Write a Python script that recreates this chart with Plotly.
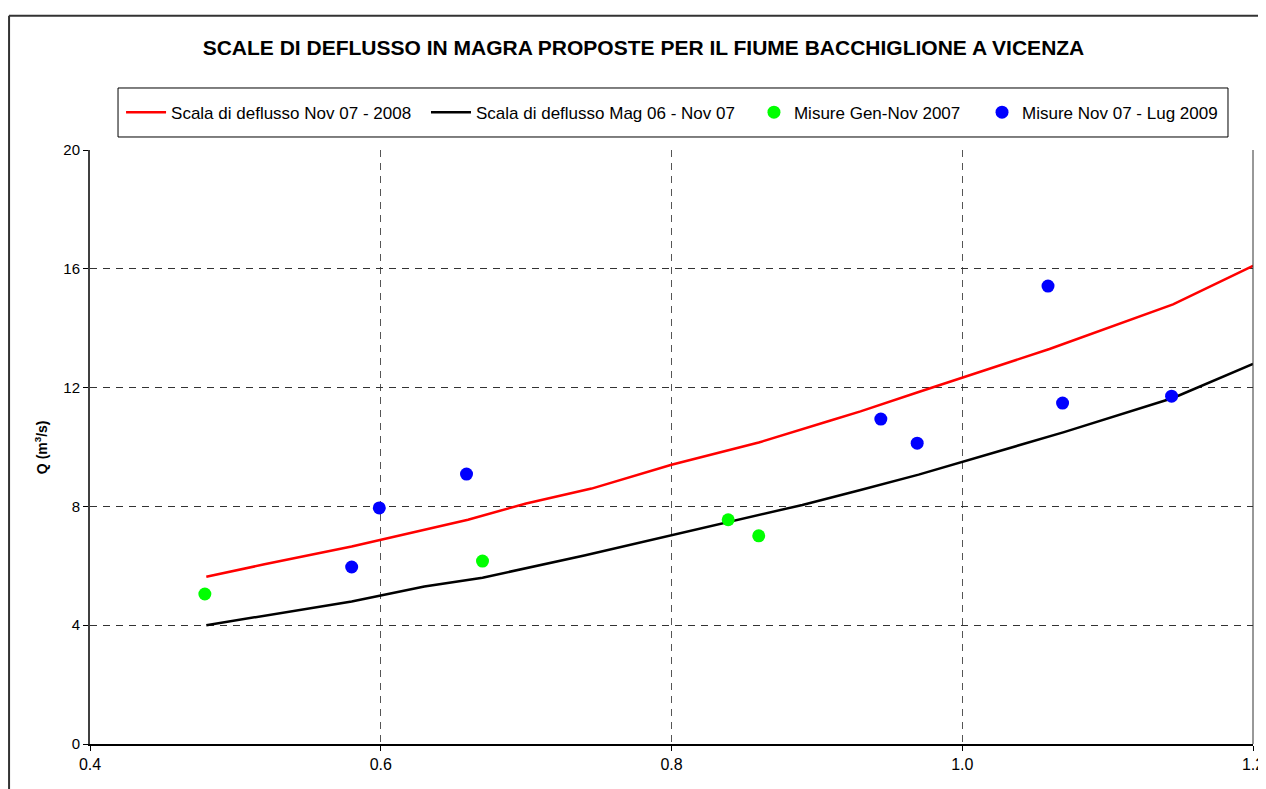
import plotly.graph_objects as go

# Rating curves (stage h [m] vs discharge Q [m3/s])
h_new = [0.48, 0.52, 0.58, 0.63, 0.66, 0.70, 0.745, 0.80, 0.86, 0.91, 0.93, 0.97, 1.06, 1.145, 1.20]
q_new = [5.63, 6.05, 6.65, 7.20, 7.55, 8.10, 8.60, 9.40, 10.15, 10.90, 11.20, 11.85, 13.30, 14.80, 16.10]

h_old = [0.48, 0.58, 0.63, 0.67, 0.74, 0.80, 0.86, 0.89, 0.93, 0.97, 1.07, 1.145, 1.20]
q_old = [4.00, 4.80, 5.30, 5.60, 6.35, 7.04, 7.72, 8.05, 8.55, 9.07, 10.50, 11.65, 12.80]

# Measurements
h_meas07 = [0.479, 0.670, 0.839, 0.860]
q_meas07 = [5.05, 6.16, 7.55, 7.01]

h_meas09 = [0.580, 0.599, 0.659, 0.944, 0.969, 1.059, 1.069, 1.144]
q_meas09 = [5.96, 7.95, 9.09, 10.94, 10.13, 15.42, 11.48, 11.71]

x_ticks = [0.4, 0.6, 0.8, 1.0, 1.2]
x_ticklabels = ["0.4", "0.6", "0.8", "1.0", "1.2"]
y_ticks = [0, 4, 8, 12, 16, 20]

FONT = "Liberation Sans, Arial, sans-serif"

fig = go.Figure()
fig.add_trace(go.Scatter(x=h_new, y=q_new, mode="lines", name="Scala di deflusso Nov 07 - 2008",
                         line=dict(color="#FF0000", width=2.5), legend="legend"))
fig.add_trace(go.Scatter(x=h_old, y=q_old, mode="lines", name="Scala di deflusso Mag 06 - Nov 07",
                         line=dict(color="#000000", width=2.5), legend="legend2"))
fig.add_trace(go.Scatter(x=h_meas07, y=q_meas07, mode="markers", name="Misure Gen-Nov 2007",
                         marker=dict(color="#00FF00", size=13, symbol="circle"), legend="legend3"))
fig.add_trace(go.Scatter(x=h_meas09, y=q_meas09, mode="markers", name="Misure Nov 07 - Lug 2009",
                         marker=dict(color="#0000FF", size=13, symbol="circle"), legend="legend4"))


def leg(x, iw):
    return dict(orientation="h", x=x, xanchor="left", y=1.063, yanchor="middle",
                font=dict(family=FONT, size=17, color="black"),
                bgcolor="rgba(0,0,0,0)", borderwidth=0, itemwidth=iw)


# The page body has an 8px margin: figure is 8px smaller and margins shifted accordingly
fig.update_layout(
    width=1258, height=781,
    margin=dict(l=82, r=13, t=142, b=45, autoexpand=False),
    paper_bgcolor="white", plot_bgcolor="white",
    font=dict(family=FONT, size=15, color="black"),
    showlegend=True,
    legend=leg(0.0267, 40),
    legend2=leg(0.2889, 40),
    legend3=leg(0.5709, 30),
    legend4=leg(0.7670, 30),
    title=dict(text="<b>SCALE DI DEFLUSSO IN MAGRA PROPOSTE PER IL FIUME BACCHIGLIONE A VICENZA</b>",
               x=0.4759, xref="paper", xanchor="center",
               y=1 - 40 / 781, yref="container", yanchor="middle",
               font=dict(family=FONT, size=21, color="black")),
    xaxis=dict(range=[0.4, 1.2], tickvals=x_ticks, ticktext=x_ticklabels,
               showgrid=True, gridcolor="#555555", griddash="7px,6px", gridwidth=1,
               showline=True, linecolor="black", linewidth=2, automargin=False,
               ticks="outside", ticklen=5, tickcolor="black", ticklabeloverflow="allow",
               tickfont=dict(family=FONT, size=16), zeroline=False),
    yaxis=dict(range=[0, 20], tickvals=y_ticks,
               showgrid=True, gridcolor="#333333", griddash="7px,6px", gridwidth=1,
               showline=True, linecolor="#404040", linewidth=2, automargin=False,
               ticks="outside", ticklen=5, tickcolor="black",
               tickfont=dict(family=FONT, size=15), zeroline=False),
    shapes=[
        # right plot border
        dict(type="line", xref="x domain", yref="y domain", x0=1, x1=1, y0=0, y1=1,
             line=dict(color="#333333", width=1)),
        # legend box
        dict(type="rect", xref="paper", yref="paper", x0=0.0241, x1=0.9785, y0=1.0219, y1=1.1044,
             line=dict(color="black", width=1), fillcolor="rgba(0,0,0,0)"),
        # outer chart border (top and left edges; the rest is cropped)
        dict(type="line", xref="paper", yref="paper", x0=-0.0696, x1=1.05, y0=1.226, y1=1.226,
             line=dict(color="#333333", width=2), layer="below"),
        dict(type="line", xref="paper", yref="paper", x0=-0.0696, x1=-0.0696, y0=-0.2, y1=1.226,
             line=dict(color="#333333", width=2), layer="below"),
    ],
    annotations=[
        dict(text="<b>Q (m<sup>3</sup>/s)</b>", xref="paper", yref="paper", x=-0.042, y=0.5,
             textangle=-90, showarrow=False, xanchor="center", yanchor="middle",
             font=dict(family=FONT, size=14, color="black")),
    ],
)

fig.write_html("out.html")
